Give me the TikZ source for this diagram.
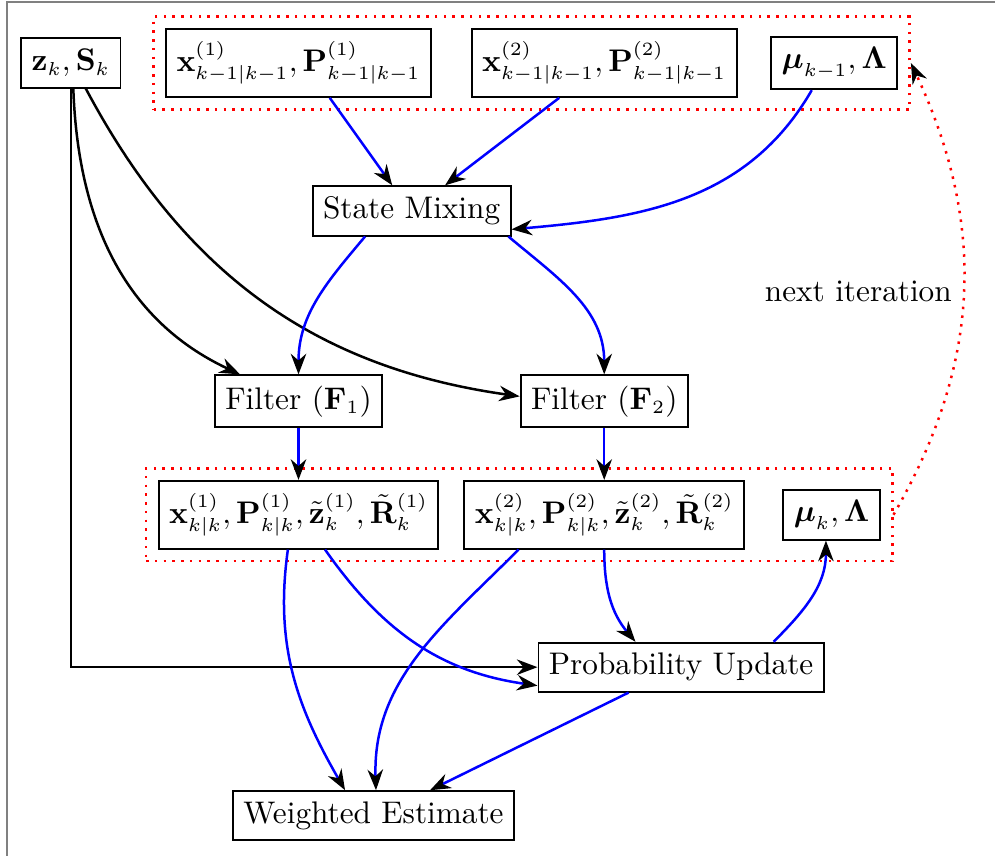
\documentclass[tikz,border=0pt]{standalone}
\usepackage{tikz}
\usetikzlibrary{arrows.meta, positioning, fit}
\usepackage{amsmath}
\usepackage{amssymb}
\DeclareMathSizes{10}{10}{6}{5}

\begin{document}
\begin{tikzpicture}[
    x=0.32pt, y=-0.32pt,
    box/.style={
        rectangle, draw=black, semithick,
        fill=white, text centered
    },
    tallbox/.style={box, minimum height=21.7pt},
    smallbox/.style={box, minimum height=15.8pt},
    group/.style={
        rectangle, draw=red, thick, dotted,
        inner sep=3.7pt
    },
    arr/.style={-{Stealth[color=black]}, thick, color=blue},
    barr/.style={-{Stealth}, thick, color=black},
]

% Frame
\useasboundingbox (0,0) rectangle (995,856);
\draw[gray, line width=0.35pt] (7,870) -- (7,2) -- (1010,2);

% Top row: previous estimates
\node[tallbox] (prev1) at (298.5,63) {$\mathbf{x}^{(1)}_{k-1|k-1}, \mathbf{P}^{(1)}_{k-1|k-1}$};
\node[tallbox, right=12.5pt of prev1] (prev2) {$\mathbf{x}^{(2)}_{k-1|k-1}, \mathbf{P}^{(2)}_{k-1|k-1}$};
\node[smallbox, right=10.5pt of prev2] (mode) {$\boldsymbol{\mu}_{k-1}, \boldsymbol{\Lambda}$};
\node[smallbox, left=14pt of prev1] (meas) {$\mathbf{z}_k, \mathbf{S}_k$};

% Middle: mixing and filters
\node[box, below=28pt of prev1, xshift=36.2pt] (mixing) {State Mixing};
\node[box, below=88.5pt of prev1] (filt1) {Filter ($\mathbf{F}_1$)};
\node[box, below=88.5pt of prev2] (filt2) {Filter ($\mathbf{F}_2$)};

% Bottom: filter outputs
\node[tallbox, below=16.5pt of filt1] (post1) {$\mathbf{x}^{(1)}_{k|k}, \mathbf{P}^{(1)}_{k|k}, \tilde{\mathbf{z}}^{(1)}_k, \tilde{\mathbf{R}}^{(1)}_k$};
\node[tallbox, below=16.5pt of filt2] (post2) {$\mathbf{x}^{(2)}_{k|k}, \mathbf{P}^{(2)}_{k|k}, \tilde{\mathbf{z}}^{(2)}_k, \tilde{\mathbf{R}}^{(2)}_k$};
\node[smallbox, right=12pt of post2] (modek) {$\boldsymbol{\mu}_k, \boldsymbol{\Lambda}$};
\node[box, below=29.5pt of post2, xshift=24.6pt] (update) {Probability Update};
\node[box, below=77pt of post1, xshift=24pt] (estimate) {Weighted Estimate};

% Dotted groups
\node[group, fit=(prev1)(prev2)(mode)] (prevgrp) {};
\node[group, fit=(post1)(post2)(modek)] (postgrp) {};

% Measurements
\draw[barr] (meas.south) |- (update.west);
\draw[barr] ([xshift=0.8pt]meas.south) to[out=-88, in=155] ([xshift=-18.7pt]filt1.north);
\draw[barr] ([xshift=4.8pt]meas.south) to[out=-62, in=172] ([yshift=1.6pt]filt2.west);

% Mixing inputs
\draw[arr] ([xshift=10pt]prev1.south) -- ([xshift=-6.2pt]mixing.north);
\draw[arr] ([xshift=-14.4pt]prev2.south) -- ([xshift=10.7pt]mixing.north);
\draw[arr] ([xshift=-7.2pt]mode.south) to[out=-120, in=5] ([yshift=-5.9pt]mixing.east);

% Filters
\draw[arr] ([xshift=-14.9pt]mixing.south) to[out=-130, in=90] (filt1.north);
\draw[arr] ([xshift=-1pt]mixing.south east) to[out=-40, in=90] (filt2.north);
\draw[arr] (filt1) -- (post1);
\draw[arr] (filt2) -- (post2);

% Outputs
\draw[arr] ([xshift=-3.4pt]post1.south) to[out=-98, in=120] ([xshift=-9.1pt]estimate.north);
\draw[arr] ([xshift=8.5pt]post1.south) to[out=-55, in=172] ([yshift=-5.9pt]update.west);
\draw[arr] ([xshift=-27.4pt]post2.south) to[out=-135, in=92] ([xshift=0.8pt]estimate.north);
\draw[arr] (post2.south) to[out=-90, in=130] ([xshift=-14.6pt]update.north);
\draw[arr] ([xshift=29.6pt]update.north) to[out=45, in=-90] ([xshift=-1.8pt]modek.south);
\draw[arr] ([xshift=-16.8pt]update.south) -- ([xshift=18.1pt]estimate.north);

% Next iteration
\draw[-{Stealth[color=black]}, thick, dotted, red] (postgrp.east) to[out=60, in=-65]
    node[midway, left, text=black] {next iteration} (prevgrp.east);

\end{tikzpicture}
\end{document}
